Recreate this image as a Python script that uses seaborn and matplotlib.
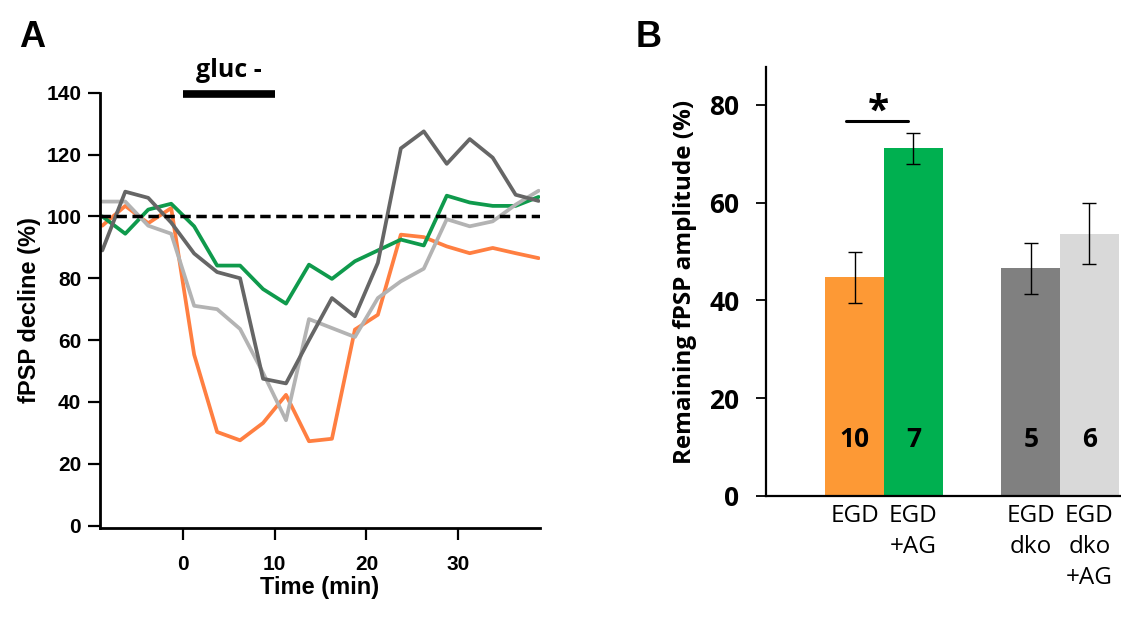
import matplotlib
import matplotlib.pyplot as plt
import numpy as np
import pandas as pd
import seaborn as sns

matplotlib.use("Agg")

# ---- panel A: fPSP time course ----
time_min = [-8.75, -6.25, -3.75, -1.25, 1.25, 3.75, 6.25, 8.75, 11.25, 13.75,
            16.25, 18.75, 21.25, 23.75, 26.25, 28.75, 31.25, 33.75, 36.25, 38.75]
egd = [97, 103.4, 97.8, 102.7, 55.3, 30.3, 27.6, 33.2, 42.3, 27.3,
       28.1, 63.4, 68.2, 94.1, 93.3, 90.3, 88.1, 89.8, 88.1, 86.5]
egd_ag = [100, 94.4, 102.2, 104.1, 96.8, 84.1, 84.1, 76.5, 71.8, 84.4,
          79.8, 85.5, 89, 92.5, 90.6, 106.7, 104.5, 103.4, 103.4, 106.3]
egd_dko = [89, 108, 106, 98, 88, 82, 80, 47.5, 46, 60,
           73.6, 67.7, 85, 122, 127.5, 117, 125, 119, 107, 105]
egd_dko_ag = [104.8, 104.8, 97, 94.4, 71.1, 70, 63.6, 49.4, 34.1, 66.8,
              63.9, 61, 73.6, 79, 83.1, 99.1, 96.8, 98.4, 103.8, 108.3]
line_names = ["EGD", "EGD+AG", "EGD dko+AG", "EGD dko"]
line_colors = ["#ff7f41", "#0f9a4c", "#b3b3b3", "#666666"]
baseline = 100
gluc_window = [0, 10]

# ---- panel B: remaining amplitude ----
bar_labels = ["EGD", "EGD\n+AG", "EGD\ndko", "EGD\ndko\n+AG"]
bar_pos = [0, 1, 3, 4]
bar_means = [44.7, 71.1, 46.6, 53.7]
bar_errs = [5.3, 3.1, 5.2, 6.3]
bar_n = ["10", "7", "5", "6"]
bar_colors = ["#fd9935", "#00b050", "#808080", "#d9d9d9"]

sns.set_style("ticks")
plt.rcParams["font.family"] = ["Liberation Sans", "DejaVu Sans"]
for key in ["text.color", "axes.labelcolor", "xtick.color", "ytick.color", "axes.edgecolor"]:
    plt.rcParams[key] = "black"

fig = plt.figure(figsize=(11.21, 6.28), dpi=100)
W, H = 1121, 628


def box(x0, y0, x1, y1):
    return [x0 / W, 1 - y1 / H, (x1 - x0) / W, (y1 - y0) / H]


# ================= A =================
ax = fig.add_axes(box(100, 92.7, 540, 528.3))
long_df = pd.DataFrame({
    "time": time_min * 4,
    "value": egd + egd_ag + egd_dko_ag + egd_dko,
    "group": sum([[n] * len(time_min) for n in line_names], []),
})
sns.lineplot(data=long_df, x="time", y="value", hue="group", hue_order=line_names,
             palette=line_colors, linewidth=2.7, legend=False, ax=ax)
ax.axhline(baseline, color="black", linewidth=2.5, dashes=(3, 1.6), zorder=5)

ax.set_xlim(-9, 38.9)
ax.set_ylim(-0.85, 140)
ax.set_yticks(np.arange(0, 141, 20))
ax.set_xticks([0, 10, 20, 30])
for side in ["top", "right"]:
    ax.spines[side].set_visible(False)
for side in ["left", "bottom"]:
    ax.spines[side].set_linewidth(2)
ax.tick_params(axis="y", length=8.5, width=1.6, pad=5, labelsize=15)
ax.tick_params(axis="x", length=8.5, width=1.6, pad=11, labelsize=15)
for lab in ax.get_xticklabels() + ax.get_yticklabels():
    lab.set_fontweight("bold")
ax.set_xlabel("Time (min)", fontsize=17, fontweight="bold", labelpad=1)
ax.set_ylabel("fPSP decline (%)", fontsize=17, fontweight="bold", labelpad=4)

# glucose removal bar
bfont = ["Open Sans", "DejaVu Sans"]
ax.plot(gluc_window, [139.6, 139.6], color="black", linewidth=5.5,
        solid_capstyle="butt", clip_on=False)
ax.text(np.mean(gluc_window), 143, "gluc -", ha="center", va="bottom",
        fontsize=18, fontweight="bold", family=bfont)

# ================= B =================
bx = fig.add_axes(box(766, 67.3, 1121, 496))
bar_df = pd.DataFrame({"pos": bar_pos, "amp": bar_means, "grp": bar_labels})
sns.barplot(data=bar_df, x="pos", y="amp", hue="grp", hue_order=bar_labels,
            palette=bar_colors, native_scale=True, width=1.0, dodge=False,
            errorbar=None, legend=False, linewidth=0, saturation=1, ax=bx)
bx.errorbar(bar_pos, bar_means, yerr=bar_errs, fmt="none", ecolor="black",
            elinewidth=1, capsize=5, capthick=1)

for p, n in zip(bar_pos, bar_n):
    bx.text(p, 11.6, n, ha="center", va="center", fontsize=19,
            fontweight="bold", family=bfont)

# significance marker
bx.plot([-0.15, 0.9], [76.7, 76.7], color="black", linewidth=2.2)
bx.text(0.4, 74.6, "*", ha="center", va="bottom", fontsize=28,
        fontweight="bold", family=bfont)

bx.set_xlim(-1.511, 4.537)
bx.set_ylim(0, 87.7)
bx.set_yticks(np.arange(0, 81, 20))
bx.set_xticks(bar_pos)
bx.set_xticklabels(bar_labels, family=bfont, fontsize=17.5, linespacing=1.38)
bx.set_xlabel("")
bx.set_ylabel("Remaining fPSP amplitude (%)", fontsize=17.5, fontweight="bold",
              family=bfont, labelpad=9)
for side in ["top", "right"]:
    bx.spines[side].set_visible(False)
for side in ["left", "bottom"]:
    bx.spines[side].set_linewidth(1.6)
bx.tick_params(axis="x", length=0, pad=6)
bx.tick_params(axis="y", length=7, width=1.3, pad=12, labelsize=19)
for lab in bx.get_yticklabels():
    lab.set_fontweight("bold")
    lab.set_family(bfont)

# panel letters
fig.text(19 / W, 1 - 46.7 / H, "A", fontsize=26, fontweight="bold", va="baseline")
fig.text(636 / W, 1 - 46.7 / H, "B", fontsize=26, fontweight="bold", va="baseline")

fig.savefig("out.png", dpi=100)
plt.close(fig)
